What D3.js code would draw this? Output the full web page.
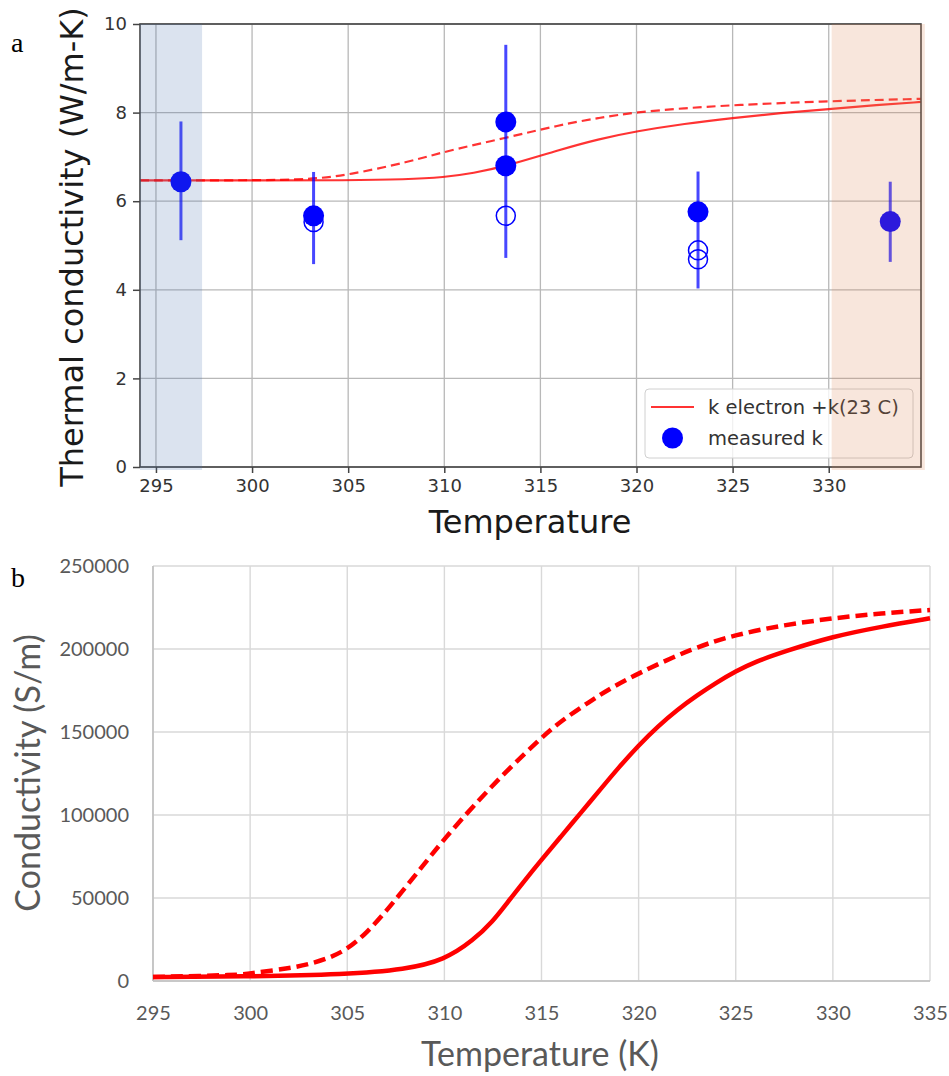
<!DOCTYPE html>
<html>
<head>
<meta charset="utf-8">
<script src="https://cdn.jsdelivr.net/npm/d3@7"></script>
<style>
  body { margin: 0; background: #fff; }
  svg { display: block; }
</style>
</head>
<body>
<div id="chart"></div>
<script>
// ---- panel a: thermal conductivity ----
const measT = [296.3, 303.2, 313.2, 313.2, 323.2, 333.2];
const measK = [6.44, 5.67, 7.79, 6.80, 5.76, 5.54];
const openT = [303.2, 313.2, 323.2, 323.2];
const openK = [5.53, 5.67, 4.89, 4.69];
const errT = [296.3, 303.2, 313.2, 323.2, 333.2];
const errLo = [5.12, 4.58, 4.72, 4.03, 4.63];
const errHi = [7.80, 6.66, 9.53, 6.67, 6.44];

const kSolidT = [294.17, 300, 305, 308, 310, 311.5, 313.2, 316, 318, 320, 322.5, 325, 327.5, 330, 332.5, 334.8];
const kSolidK = [6.47, 6.47, 6.47, 6.49, 6.54, 6.63, 6.79, 7.16, 7.40, 7.58, 7.75, 7.88, 7.99, 8.08, 8.17, 8.24];
const kDashT = [294.17, 300, 303, 305, 308.2, 310, 313.2, 316, 318, 320, 322.5, 325, 330, 334.8];
const kDashK = [6.47, 6.47, 6.49, 6.59, 6.89, 7.12, 7.43, 7.72, 7.88, 8.01, 8.10, 8.17, 8.26, 8.31];

const spanCold = [294.17, 297.4];
const spanHot = [330.15, 335.0];

const topXTicks = [295, 300, 305, 310, 315, 320, 325, 330];
const topYTicks = [0, 2, 4, 6, 8, 10];

// ---- panel b: electrical conductivity ----
const sSolidT = [295, 299.5, 305, 308, 310, 311.5, 312.5, 313.2, 314, 315, 316, 317, 318, 319, 320, 321, 322, 323, 324, 325, 326, 327.5, 330, 332.5, 335];
const sSolidS = [2400, 2600, 4000, 7000, 12600, 24600, 36000, 46600, 58600, 73000, 87000, 101000, 115000, 129000, 142000, 153500, 163500, 172000, 179700, 186600, 192300, 198500, 207600, 213500, 218500];
const sDashT = [295, 299.5, 300, 302, 303, 304, 305, 306, 307, 308, 309, 310, 311.5, 313.2, 315, 316, 317.5, 318.5, 320, 322.8, 325, 327.5, 330, 332.5, 335];
const sDashS = [2400, 3600, 4600, 7600, 10000, 13500, 19000, 29000, 42000, 56500, 71000, 85600, 105600, 126600, 146600, 156600, 168500, 176000, 185500, 200600, 208700, 214500, 218600, 221500, 223500];

const botXTicks = [295, 300, 305, 310, 315, 320, 325, 330, 335];
const botYTicks = [0, 50000, 100000, 150000, 200000, 250000];

const svg = d3.select("#chart").append("svg")
  .attr("width", 949)
  .attr("height", 1076);

// ================= panel a =================
const xA = d3.scaleLinear().domain([294.17, 334.8]).range([140, 921]);
const yA = d3.scaleLinear().domain([0, 10]).range([467, 24]);

const gA = svg.append("g");

// grid
gA.append("g").selectAll("line").data(topXTicks).join("line")
  .attr("x1", d => xA(d)).attr("x2", d => xA(d))
  .attr("y1", yA(0)).attr("y2", yA(10))
  .attr("stroke", "#b8b8b8").attr("stroke-width", 1.3);
gA.append("g").selectAll("line").data(topYTicks).join("line")
  .attr("x1", xA.range()[0]).attr("x2", xA.range()[1])
  .attr("y1", d => yA(d)).attr("y2", d => yA(d))
  .attr("stroke", "#b8b8b8").attr("stroke-width", 1.3);

// model curves
const lineA = d3.line().x(d => xA(d[0])).y(d => yA(d[1])).curve(d3.curveBasis);
gA.append("path")
  .datum(kSolidT.map((t, i) => [t, kSolidK[i]]))
  .attr("d", lineA)
  .attr("fill", "none").attr("stroke", "red").attr("stroke-opacity", 0.8).attr("stroke-width", 2.2);
gA.append("path")
  .datum(kDashT.map((t, i) => [t, kDashK[i]]))
  .attr("d", lineA)
  .attr("fill", "none").attr("stroke", "red").attr("stroke-opacity", 0.8).attr("stroke-width", 2.2)
  .attr("stroke-dasharray", "9,5");

// error bars
gA.append("g").selectAll("line").data(errT).join("line")
  .attr("x1", d => xA(d)).attr("x2", d => xA(d))
  .attr("y1", (d, i) => yA(errLo[i])).attr("y2", (d, i) => yA(errHi[i]))
  .attr("stroke", "blue").attr("stroke-opacity", 0.72).attr("stroke-width", 3);

// measured points
gA.append("g").selectAll("circle").data(measT).join("circle")
  .attr("cx", d => xA(d)).attr("cy", (d, i) => yA(measK[i]))
  .attr("r", 10.5).attr("fill", "blue");
gA.append("g").selectAll("circle").data(openT).join("circle")
  .attr("cx", d => xA(d)).attr("cy", (d, i) => yA(openK[i]))
  .attr("r", 9.5).attr("fill", "none").attr("stroke", "blue").attr("stroke-width", 1.5);

// legend
const leg = gA.append("g");
leg.append("rect")
  .attr("x", 645).attr("y", 389).attr("width", 268).attr("height", 69).attr("rx", 4)
  .attr("fill", "white").attr("fill-opacity", 0.8)
  .attr("stroke", "#d0d0d0").attr("stroke-width", 1);
leg.append("line")
  .attr("x1", 651).attr("x2", 694).attr("y1", 407).attr("y2", 407)
  .attr("stroke", "red").attr("stroke-opacity", 0.8).attr("stroke-width", 2.2);
leg.append("circle").attr("cx", 672.5).attr("cy", 438).attr("r", 10.5).attr("fill", "blue");
leg.selectAll("text").data(["k electron +k(23 C)", "measured k"]).join("text")
  .attr("x", 708).attr("y", (d, i) => 414 + i * 31)
  .attr("font-family", "DejaVu Sans").attr("font-size", 19.5).attr("fill", "#333")
  .text(d => d);

// axes
const axA_x = gA.append("g").attr("transform", `translate(0,${yA(0)})`)
  .call(d3.axisBottom(xA).tickValues(topXTicks).tickSize(6).tickPadding(6));
const axA_y = gA.append("g").attr("transform", `translate(${xA.range()[0]},0)`)
  .call(d3.axisLeft(yA).tickValues(topYTicks).tickSize(7).tickPadding(6));
[axA_x, axA_y].forEach(ax => {
  ax.select(".domain").remove();
  ax.selectAll(".tick line").attr("stroke", "#444").attr("stroke-width", 1.5);
  ax.selectAll(".tick text").attr("font-family", "DejaVu Sans").attr("font-size", 18).attr("fill", "#333");
});

// frame
gA.append("rect")
  .attr("x", xA.range()[0]).attr("y", yA(10))
  .attr("width", xA.range()[1] - xA.range()[0]).attr("height", yA(0) - yA(10))
  .attr("fill", "none").attr("stroke", "#444").attr("stroke-width", 1.6);

// shaded temperature ranges (drawn over everything, like the original)
gA.append("rect")
  .attr("x", xA(spanCold[0])).attr("width", xA(spanCold[1]) - xA(spanCold[0]))
  .attr("y", yA(10)).attr("height", yA(0) - yA(10) + 3)
  .attr("fill", "#4c72b0").attr("fill-opacity", 0.2);
gA.append("rect")
  .attr("x", xA(spanHot[0])).attr("width", xA(spanHot[1]) - xA(spanHot[0]))
  .attr("y", yA(10)).attr("height", yA(0) - yA(10) + 3)
  .attr("fill", "#dd8452").attr("fill-opacity", 0.2);

// axis titles
gA.append("text")
  .attr("transform", "translate(83,247) rotate(-90)")
  .attr("text-anchor", "middle")
  .attr("font-family", "DejaVu Sans").attr("font-size", 32).attr("fill", "#1a1a1a")
  .text("Thermal conductivity (W/m-K)");
gA.append("text")
  .attr("x", 530).attr("y", 533)
  .attr("text-anchor", "middle")
  .attr("font-family", "DejaVu Sans").attr("font-size", 32).attr("fill", "#1a1a1a")
  .text("Temperature");

svg.append("text").attr("x", 11).attr("y", 52)
  .attr("font-family", "Liberation Serif").attr("font-size", 28).attr("fill", "#000")
  .text("a");

// ================= panel b =================
const xB = d3.scaleLinear().domain([295, 335]).range([153, 930]);
const yB = d3.scaleLinear().domain([0, 250000]).range([981, 566]);
const gB = svg.append("g");

gB.append("g").selectAll("line").data(botXTicks).join("line")
  .attr("x1", d => xB(d)).attr("x2", d => xB(d))
  .attr("y1", yB(0)).attr("y2", yB(250000))
  .attr("stroke", "#d9d9d9").attr("stroke-width", 1.4);
gB.append("g").selectAll("line").data(botYTicks).join("line")
  .attr("x1", xB(295)).attr("x2", xB(335))
  .attr("y1", d => yB(d)).attr("y2", d => yB(d))
  .attr("stroke", "#d9d9d9").attr("stroke-width", 1.4);
// axis lines
gB.append("line").attr("x1", xB(295)).attr("x2", xB(295)).attr("y1", yB(0)).attr("y2", yB(250000))
  .attr("stroke", "#bfbfbf").attr("stroke-width", 1.6);
gB.append("line").attr("x1", xB(295)).attr("x2", xB(335)).attr("y1", yB(0)).attr("y2", yB(0))
  .attr("stroke", "#bfbfbf").attr("stroke-width", 1.6);

const lineB = d3.line().x(d => xB(d[0])).y(d => yB(d[1])).curve(d3.curveBasis);
gB.append("path")
  .datum(sSolidT.map((t, i) => [t, sSolidS[i]]))
  .attr("d", lineB)
  .attr("fill", "none").attr("stroke", "#ff0000").attr("stroke-width", 4.5);
gB.append("path")
  .datum(sDashT.map((t, i) => [t, sDashS[i]]))
  .attr("d", lineB)
  .attr("fill", "none").attr("stroke", "#ff0000").attr("stroke-width", 4.5)
  .attr("stroke-dasharray", "12,6");

const axB_x = gB.append("g").attr("transform", `translate(0,${yB(0)})`)
  .call(d3.axisBottom(xB).tickValues(botXTicks).tickSize(0).tickPadding(25));
const axB_y = gB.append("g").attr("transform", `translate(${xB(295)},0)`)
  .call(d3.axisLeft(yB).tickValues(botYTicks).tickFormat(d3.format("d")).tickSize(0).tickPadding(24));
[axB_x, axB_y].forEach(ax => {
  ax.select(".domain").remove();
  ax.selectAll(".tick text").attr("font-family", "Lato").attr("font-size", 20).attr("fill", "#595959");
});

gB.append("text")
  .attr("transform", "translate(40,773) rotate(-90)")
  .attr("text-anchor", "middle")
  .attr("font-family", "Lato").attr("font-size", 34).attr("fill", "#595959")
  .text("Conductivity (S/m)");
gB.append("text")
  .attr("x", 540).attr("y", 1066)
  .attr("text-anchor", "middle")
  .attr("font-family", "Lato").attr("font-size", 34).attr("fill", "#595959")
  .text("Temperature (K)");

svg.append("text").attr("x", 11).attr("y", 587)
  .attr("font-family", "Liberation Serif").attr("font-size", 28).attr("fill", "#000")
  .text("b");
</script>
</body>
</html>
